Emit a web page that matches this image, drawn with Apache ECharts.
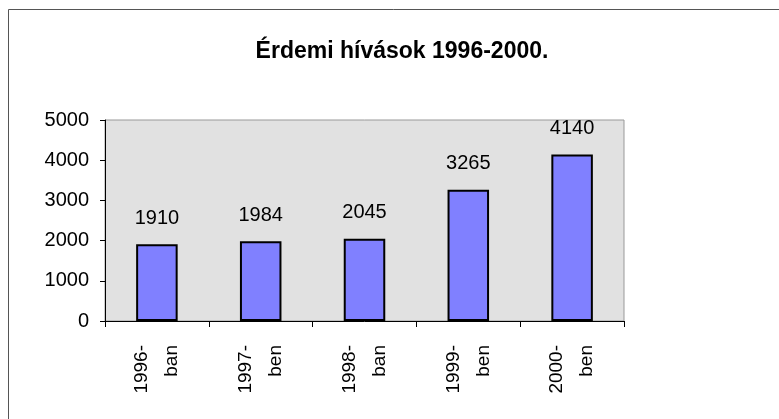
<!DOCTYPE html>
<html>
<head>
<meta charset="utf-8">
<script src="https://cdn.jsdelivr.net/npm/echarts@6/dist/echarts.min.js"></script>
<style>
  html, body { margin: 0; padding: 0; background: #fff; }
  #chart { width: 779px; height: 419px; }
</style>
</head>
<body>
<div id="chart"></div>
<script type="text/javascript">
    // adatok
    var chartTitle = 'Érdemi hívások 1996-2000.';
    var categories = ['1996-\nban', '1997-\nben', '1998-\nban', '1999-\nben', '2000-\nben'];
    var calls = [1910, 1984, 2045, 3265, 4140];
    var yMin = 0, yMax = 5000, yStep = 1000;

    var font = '"Liberation Sans", Arial, sans-serif';
    var myChart = echarts.init(document.getElementById('chart'));

    var option = {
        animation: false,
        title: {
            text: chartTitle,
            left: 397,
            textAlign: 'center',
            top: 35,
            textStyle: { fontFamily: font, fontSize: 23, fontWeight: 'bold', color: '#000' }
        },
        // keret csak fent es balra
        graphic: [
            { type: 'line', shape: { x1: 8.5, y1: 9.5, x2: 779, y2: 9.5 }, style: { stroke: '#555', lineWidth: 1 } },
            { type: 'line', shape: { x1: 8.5, y1: 9.5, x2: 8.5, y2: 419 }, style: { stroke: '#555', lineWidth: 1 } }
        ],
        grid: {
            left: 105,
            right: 155,
            top: 120,
            bottom: 98,
            show: true,
            backgroundColor: '#e1e1e1',
            borderColor: '#999',
            borderWidth: 1
        },
        xAxis: {
            type: 'category',
            data: categories,
            axisLine: { lineStyle: { color: '#000', width: 1 } },
            axisTick: { show: true, length: 6, lineStyle: { color: '#000' } },
            axisLabel: {
                rotate: 90,
                margin: 24,
                interval: 0,
                lineHeight: 30,
                fontFamily: font,
                fontSize: 19,
                color: '#000'
            }
        },
        yAxis: {
            type: 'value',
            min: yMin,
            max: yMax,
            interval: yStep,
            axisLine: { show: true, lineStyle: { color: '#000', width: 1 } },
            axisTick: { show: true, length: 5, lineStyle: { color: '#000' } },
            splitLine: { show: false },
            axisLabel: {
                margin: 16,
                fontFamily: font,
                fontSize: 20,
                color: '#000',
                formatter: function (v) { return String(v); }
            }
        },
        series: [{
            type: 'bar',
            data: calls,
            barWidth: '40%',
            itemStyle: { color: '#8080ff', borderColor: '#000', borderWidth: 2 },
            label: {
                show: true,
                position: 'top',
                distance: 16,
                fontFamily: font,
                fontSize: 20,
                color: '#000'
            }
        }]
    };
    myChart.setOption(option);
</script>
</body>
</html>
